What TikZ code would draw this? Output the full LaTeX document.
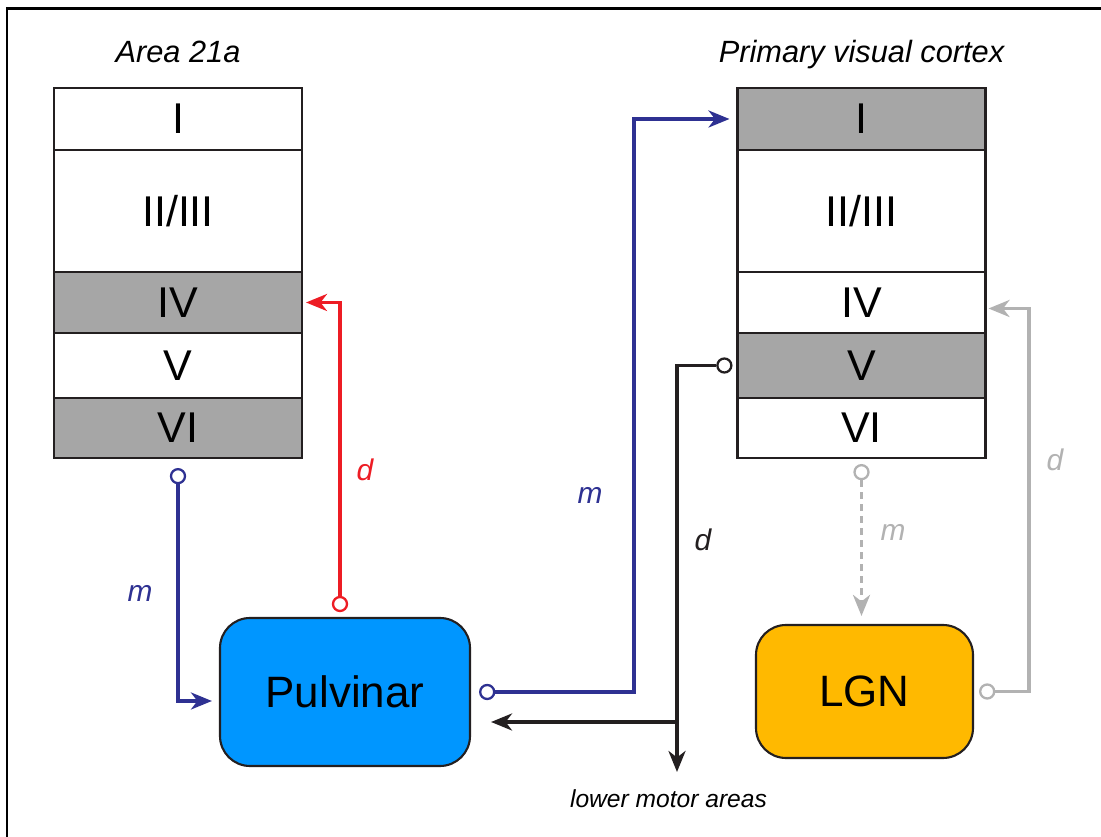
\documentclass[tikz,border=0pt]{standalone}
\usepackage{fontspec}
\setmainfont{Liberation Sans}
\usepackage{tikz}
\usetikzlibrary{shapes,arrows.meta,positioning,calc}
\definecolor{cxblue}{RGB}{46,49,146}
\definecolor{cxred}{RGB}{237,28,36}
\definecolor{cxgrey}{RGB}{178,178,178}
\definecolor{cxlayer}{RGB}{166,166,166}
\definecolor{cxpulv}{RGB}{0,150,255}
\definecolor{cxlgn}{RGB}{255,185,0}
\definecolor{cxline}{RGB}{35,31,32}

\begin{document}
\begin{tikzpicture}[
  layer/.style={draw=cxline, line width=1.2pt, rectangle, fill=white, minimum width=4.96cm, outer sep=0pt, inner sep=0pt, font=\fontsize{24.5}{28}\selectfont},
  title/.style={inner sep=0pt, anchor=base, font=\fontsize{17.5}{20}\selectfont\itshape},
  nucleus/.style={draw=cxline, line width=1.2pt, rounded corners=0.6cm, font=\fontsize{25}{30}\selectfont},
  port/.style={circle, fill=white, line width=1.3pt, minimum size=0.28cm, inner sep=0pt},
  conn/.style={line width=2pt, -{Stealth[length=0.42cm, width=0.34cm, inset=0.13cm]}},
  lbl/.style={font=\fontsize{17}{20}\selectfont\itshape}
]
  \useasboundingbox (0,0) rectangle (22.02,16.74);
  \draw[line width=1.7pt, black] (22.5,16.56) -- (0.14,16.56) -- (0.14,-0.5);

  % Area 21a
  \node[layer, minimum height=1.24cm] (aI) at (3.56,14.36) {I};
  \node[layer, minimum height=2.44cm, below=0pt of aI] (aII) {II/III};
  \node[layer, fill=cxlayer, minimum height=1.22cm, below=0pt of aII] (aIV) {IV};
  \node[layer, minimum height=1.30cm, below=0pt of aIV] (aV) {V};
  \node[layer, fill=cxlayer, minimum height=1.20cm, below=0pt of aV] (aVI) {VI};
  \node[title] (atitle) at ([yshift=0.5cm]aI.north) {Area 21a};

  % primary visual cortex
  \node[layer, fill=cxlayer, minimum height=1.24cm] (bI) at (17.23,14.36) {I};
  \node[layer, minimum height=2.44cm, below=0pt of bI] (bII) {II/III};
  \node[layer, minimum height=1.22cm, below=0pt of bII] (bIV) {IV};
  \node[layer, fill=cxlayer, minimum height=1.30cm, below=0pt of bIV] (bV) {V};
  \node[layer, minimum height=1.20cm, below=0pt of bV] (bVI) {VI};
  \node[title] (btitle) at ([yshift=0.5cm]bI.north) {Primary visual cortex};

  % thalamus
  \node[nucleus, fill=cxpulv, minimum width=5cm, minimum height=2.96cm] (pulv) at (6.90,2.90) {Pulvinar};
  \node[nucleus, fill=cxlgn, minimum width=4.34cm, minimum height=2.66cm] (lgn) at (17.29,2.91) {LGN};

  % ports
  \node[port, draw=cxblue, below=0.2cm of aVI] (p1) {};
  \node[port, draw=cxred] (p2) at (6.80,4.66) {};
  \node[port, draw=cxblue, right=0.16cm of pulv] (p3) {};
  \node[port, draw=cxline, left=0.10cm of bV] (p4) {};
  \node[port, draw=cxgrey, below=0.12cm of bVI] (p5) {};
  \node[port, draw=cxgrey, right=0.10cm of lgn] (p6) {};
  \coordinate (motor) at (13.54,1.30);
  \coordinate (split) at (13.54,2.30);

  % connections
  \draw[conn, cxblue, shorten >=0.14cm] (p1) |- ([yshift=-0.18cm]pulv.west);
  \draw[conn, cxred, shorten >=0.08cm] (p2) |- (aIV.east);
  \draw[conn, cxblue, shorten >=0.16cm] (p3) -- ++(2.94,0) |- (bI.west);
  \draw[conn, cxline] (p4) -| (motor);
  \draw[conn, cxline, shorten >=0.40cm] (split) -- (split -| pulv.east);
  \draw[conn, cxgrey, dash pattern=on 0.14cm off 0.1cm, shorten >=0.16cm] (p5) -- (p5 |- lgn.north);
  \draw[conn, cxgrey, shorten >=0.06cm] (p6) -- ++(0.84,0) |- ([yshift=-0.12cm]bIV.east);

  % labels
  \node[lbl, cxblue] (lm1) at (2.80,4.88) {m};
  \node[lbl, cxred] (ld1) at (7.30,7.34) {d};
  \node[lbl, cxblue] (lm2) at (11.80,6.84) {m};
  \node[lbl, cxline] (ld2) at (14.06,5.94) {d};
  \node[lbl, cxgrey] (lm3) at (17.86,6.10) {m};
  \node[lbl, cxgrey] (ld3) at (21.10,7.54) {d};
  \node[font=\fontsize{14}{16}\selectfont\itshape] (lower) at (13.37,0.76) {lower motor areas};
\end{tikzpicture}
\end{document}
